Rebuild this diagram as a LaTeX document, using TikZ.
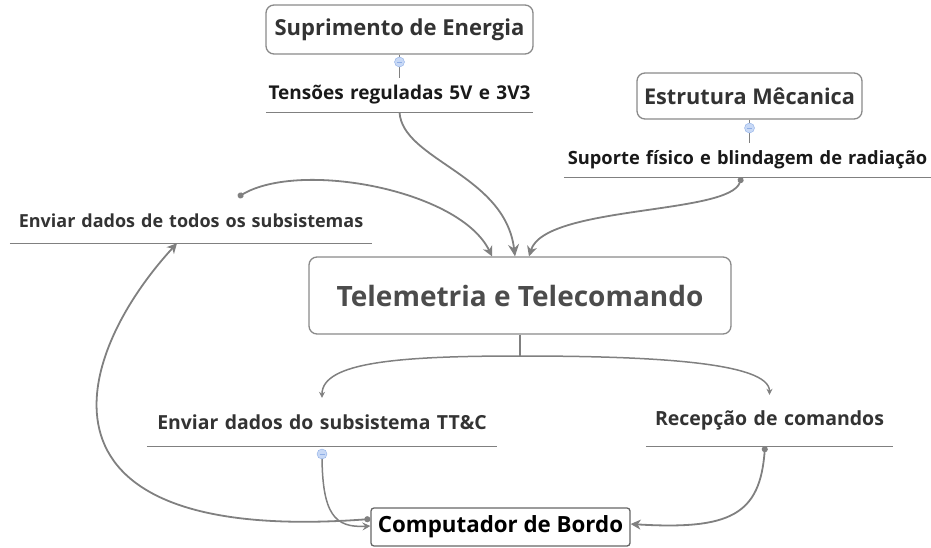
\documentclass[tikz,border=0pt]{standalone}
\usepackage{fontspec}
\setmainfont{Open Sans}
\usetikzlibrary{arrows.meta}
\definecolor{linegray}{HTML}{808080}
\definecolor{boxgray}{HTML}{8A8A8A}
\definecolor{txtgray}{HTML}{333333}
\definecolor{knobfill}{HTML}{C8D9F6}
\definecolor{knobline}{HTML}{8FAEE6}
\newcommand{\knob}[1]{%
  \fill[knobfill] (#1) circle(5pt); \draw[knobline,thin] (#1) circle(5pt);%
  \draw[knobline,semithick] ([xshift=-2.5pt]#1)--([xshift=2.5pt]#1);%
}
\newcommand{\fs}[1]{\fontsize{#1}{#1}\selectfont\bfseries}

\begin{document}
\begin{tikzpicture}[x=1pt,y=-1pt,
  topic/.style={draw=boxgray,line width=1.3pt,rounded corners=8pt,fill=white,
    text=txtgray,font=\fs{22},inner sep=0pt},
  sub/.style={font=\fs{19},text=black!90,align=center,
    inner sep=0pt,append after command={(\tikzlastnode.south west) edge[uline] (\tikzlastnode.south east)}},
  uline/.style={draw=linegray,line width=1.3pt},
  link/.style={draw=linegray,line width=1.8pt,-{Stealth[length=12pt,width=11pt,inset=4pt]}},
  minor/.style={draw=linegray,line width=1.5pt,-{Stealth[length=6pt,width=6pt,inset=2pt]}},
  dotted start/.style={{Circle[length=6pt]}-{Stealth[length=10pt,width=10pt,inset=3pt]}}]
  \useasboundingbox (0,0) rectangle (931,548);
  \node[topic,minimum width=267,minimum height=49] (energia) at (399.5,29.5) {Suprimento de Energia};
  \node[topic,minimum width=225,minimum height=46,font=\fs{21.7}] (estrutura) at (749.5,96) {Estrutura Mêcanica};
  \node[topic,minimum width=422,minimum height=77,font=\fs{28},text=black!70] (telem) at (520,295.5) {Telemetria e Telecomando};
  \node[topic,minimum width=259,minimum height=38,rounded corners=3pt,draw=black!60,text=black,
    font=\fs{22.3}] (comp) at (500.5,527) {Computador de Bordo};

  \node[sub,text width=267,minimum height=34] (tensoes) at (399.5,95) {Tensões reguladas 5V e 3V3};
  \node[sub,text width=367,minimum height=34,font=\fs{18.3}] (suporte) at (747.5,160) {Suporte físico e blindagem de radiação};
  \node[sub,text width=362,minimum height=44,font=\fs{18},text=txtgray] (todos) at (191,221) {Enviar dados de todos os subsistemas};
  \node[sub,text width=350,minimum height=48,font=\fs{19.4},text=txtgray] (ttc) at (322,422) {Enviar dados do subsistema TT\&C};
  \node[sub,text width=247,minimum height=51,font=\fs{19.5},text=txtgray] (recep) at (769.5,420.5) {Recepção de comandos};

  \coordinate (split) at (520,356);
  \coordinate (todostail) at (238,197);
  \coordinate (kE) at (399.5,62);
  \coordinate (kS) at (749.5,128);
  \coordinate (kT) at (322,454);

  \draw[uline] (energia.south) -- (tensoes.north);
  \draw[uline] (estrutura.south) -- (estrutura.south |- suporte.north);
  \draw[uline] (telem.south) -- (split);
  \knob{kE} \knob{kS}

  \draw[link] (tensoes.south) .. controls +(3,48) and +(-10,-82) .. ([xshift=-5]telem.north);
  \draw[link,dotted start] ([xshift=-6]suporte.south) .. controls (730,215) and (545,205) .. ([xshift=9]telem.north);
  \draw[link,dotted start] (todostail) .. controls (300,160) and (460,190) .. ([xshift=-28]telem.north);
  \draw[minor] (split) .. controls (400,356) and (322,362) .. (ttc.north);
  \draw[minor] (split) .. controls (650,356) and (769.5,362) .. (recep.north);
  \draw[minor,-{Stealth[length=8pt,width=8pt,inset=3pt]}] (kT) .. controls (322,515) and (335,528) .. ([yshift=1]comp.west);
  \draw[link,dotted start] ([yshift=8]comp.west) .. controls (20,545) and (70,360) .. ([xshift=-14]todos.south);
  \draw[link,dotted start] ([xshift=-4.5]recep.south) .. controls (760,515) and (730,530) .. ([yshift=3]comp.east);
  \knob{kT}
\end{tikzpicture}
\end{document}
